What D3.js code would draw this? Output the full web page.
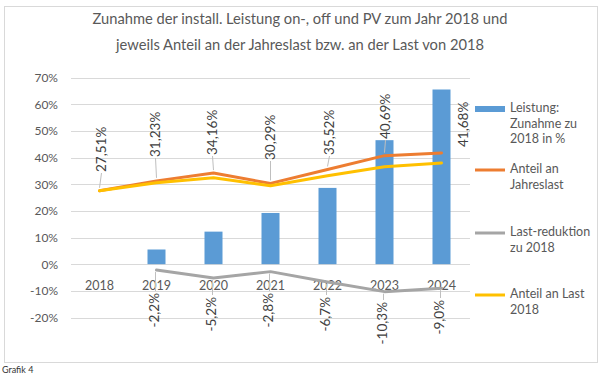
<!DOCTYPE html>
<html>
<head>
<meta charset="utf-8">
<script src="https://cdn.jsdelivr.net/npm/d3@7"></script>
<style>
  body { margin: 0; background: #fff; }
  text { font-family: Lato, "Open Sans", sans-serif; }
</style>
</head>
<body>
<svg id="chart" width="600" height="375"></svg>
<script>
// data
const years = ['2018', '2019', '2020', '2021', '2022', '2023', '2024'];
const leistung = [0, 5.5, 12.2, 19.2, 28.6, 46.5, 65.5];          // bars
const anteilJahreslast = [27.51, 31.23, 34.16, 30.29, 35.52, 40.69, 41.68];
const lastReduktion = [null, -2.2, -5.2, -2.8, -6.7, -10.3, -9.0];
const anteilLast2018 = [27.51, 30.54, 32.38, 29.44, 33.14, 36.50, 37.93];
const yTicks = [-20, -10, 0, 10, 20, 30, 40, 50, 60, 70];

const titleLines = ['Zunahme der install. Leistung on-, off und PV zum Jahr 2018 und',
                    'jeweils Anteil an der Jahreslast bzw. an der Last von 2018'];

// label placement tweaks (pixels), as Excel had them hand-moved
const orangeLabelDx = [3, 0, 0, 1, 3, 2, 23];
const orangeLabelBottom = [172, 157, 155, 160, 155, 139, 147];
const greyLabelTop = [null, 293, 297, 293, 297, 302, 300];

const svg = d3.select('#chart');
const colors = { bar: '#5B9BD5', orange: '#ED7D31', grey: '#A5A5A5', yellow: '#FFC000' };
const textGrey = '#595959';

// outer frame
svg.append('rect')
    .attr('x', 4.5).attr('y', 6.5).attr('width', 593).attr('height', 356)
    .attr('fill', '#fff').attr('stroke', '#D9D9D9');

svg.append('text')
    .attr('x', 2).attr('y', 373)
    .attr('font-size', 9).attr('fill', '#333')
    .text('Grafik 4');

// title
svg.selectAll('.title')
    .data(titleLines)
    .enter().append('text')
    .attr('class', 'title')
    .attr('x', 300)
    .attr('y', (d, i) => 24 + i * 26)
    .attr('text-anchor', 'middle')
    .attr('font-size', 14.7)
    .attr('fill', textGrey)
    .text(d => d);

const x = d3.scaleBand().domain(years).range([71, 470]);
const y = d3.scaleLinear().domain([-20, 70]).range([317.5, 77.5]);

// gridlines
svg.append('g')
    .selectAll('line')
    .data(yTicks)
    .enter().append('line')
    .attr('x1', 71).attr('x2', 470)
    .attr('y1', d => Math.round(y(d)) + 0.5)
    .attr('y2', d => Math.round(y(d)) + 0.5)
    .attr('stroke', '#D9D9D9');

// y axis labels
const yAxis = d3.axisLeft(y).tickValues(yTicks).tickSize(0).tickPadding(0)
    .tickFormat(d => d + '%');
svg.append('g')
    .attr('transform', 'translate(58,0)')
    .call(yAxis)
    .call(g => g.select('.domain').remove())
    .call(g => g.selectAll('text')
        .attr('font-size', 12).attr('fill', textGrey)
        .attr('font-family', 'Lato, sans-serif'));

// bars
const barW = 18;
svg.append('g')
    .selectAll('rect')
    .data(leistung)
    .enter().append('rect')
    .attr('x', (d, i) => x(years[i]) + x.bandwidth() / 2 - barW / 2)
    .attr('y', d => y(Math.max(d, 0)))
    .attr('width', barW)
    .attr('height', d => Math.abs(y(d) - y(0)))
    .attr('fill', colors.bar);

// category labels
svg.append('g')
    .selectAll('text')
    .data(years)
    .enter().append('text')
    .attr('x', d => x(d) + x.bandwidth() / 2)
    .attr('y', 290)
    .attr('text-anchor', 'middle')
    .attr('font-size', 12.5)
    .attr('fill', textGrey)
    .text(d => d);

const cx = i => x(years[i]) + x.bandwidth() / 2;
const line = d3.line()
    .defined(d => d != null)
    .x((d, i) => cx(i))
    .y(d => y(d));

function drawLine(values, color) {
    svg.append('path')
        .datum(values)
        .attr('d', line)
        .attr('fill', 'none')
        .attr('stroke', color)
        .attr('stroke-width', 3)
        .attr('stroke-linejoin', 'round')
        .attr('stroke-linecap', 'round');
}

drawLine(lastReduktion, colors.grey);
drawLine(anteilJahreslast, colors.orange);
drawLine(anteilLast2018, colors.yellow);

// German decimal comma, plain hyphen as minus
const fmt = v => v.toFixed(2).replace('.', ',') + '%';
const fmt1 = v => v.toFixed(1).replace('.', ',') + '%';

// orange data labels (rotated) with leader lines
anteilJahreslast.forEach((v, i) => {
    const lx = cx(i) + orangeLabelDx[i];
    const py = y(v);
    const bottom = orangeLabelBottom[i];
    if (py - bottom > 8) {
        svg.append('line')
            .attr('x1', lx - 1).attr('y1', bottom + 1)
            .attr('x2', cx(i)).attr('y2', py - 3)
            .attr('stroke', '#BFBFBF').attr('stroke-width', 1);
    }
    svg.append('text')
        .attr('transform', `translate(${lx},${bottom}) rotate(-90)`)
        .attr('dominant-baseline', 'middle')
        .attr('font-size', 13.5)
        .attr('fill', '#404040')
        .text(fmt(v));
});

// grey data labels
lastReduktion.forEach((v, i) => {
    if (v == null) return;
    const py = y(v);
    const top = greyLabelTop[i];
    if (top - py > 10) {
        svg.append('line')
            .attr('x1', cx(i) - 1).attr('y1', py + 2)
            .attr('x2', cx(i) - 1).attr('y2', top - 2)
            .attr('stroke', '#BFBFBF').attr('stroke-width', 1);
    }
    svg.append('text')
        .attr('transform', `translate(${cx(i) - 1},${top}) rotate(-90)`)
        .attr('dominant-baseline', 'middle')
        .attr('text-anchor', 'end')
        .attr('font-size', 13.5)
        .attr('fill', '#404040')
        .text(fmt1(v));
});

// legend
const legendItems = [
    { lines: ['Leistung:', 'Zunahme zu', '2018 in %'], color: colors.bar, type: 'bar', y: 109 },
    { lines: ['Anteil an', 'Jahreslast'], color: colors.orange, type: 'line', y: 170 },
    { lines: ['Last-reduktion', 'zu 2018'], color: colors.grey, type: 'line', y: 233 },
    { lines: ['Anteil an Last', '2018'], color: colors.yellow, type: 'line', y: 295 }
];
const lg = svg.append('g');
legendItems.forEach(it => {
    if (it.type === 'bar') {
        lg.append('rect').attr('x', 475).attr('y', it.y - 3).attr('width', 30).attr('height', 6)
            .attr('fill', it.color);
    } else {
        lg.append('line').attr('x1', 475).attr('x2', 505).attr('y1', it.y).attr('y2', it.y)
            .attr('stroke', it.color).attr('stroke-width', 3);
    }
    it.lines.forEach((t, j) => {
        lg.append('text')
            .attr('x', 510).attr('y', it.y + j * 15.5)
            .attr('dominant-baseline', 'middle')
            .attr('font-size', 12.5)
            .attr('fill', textGrey)
            .text(t);
    });
});
</script>
</body>
</html>
